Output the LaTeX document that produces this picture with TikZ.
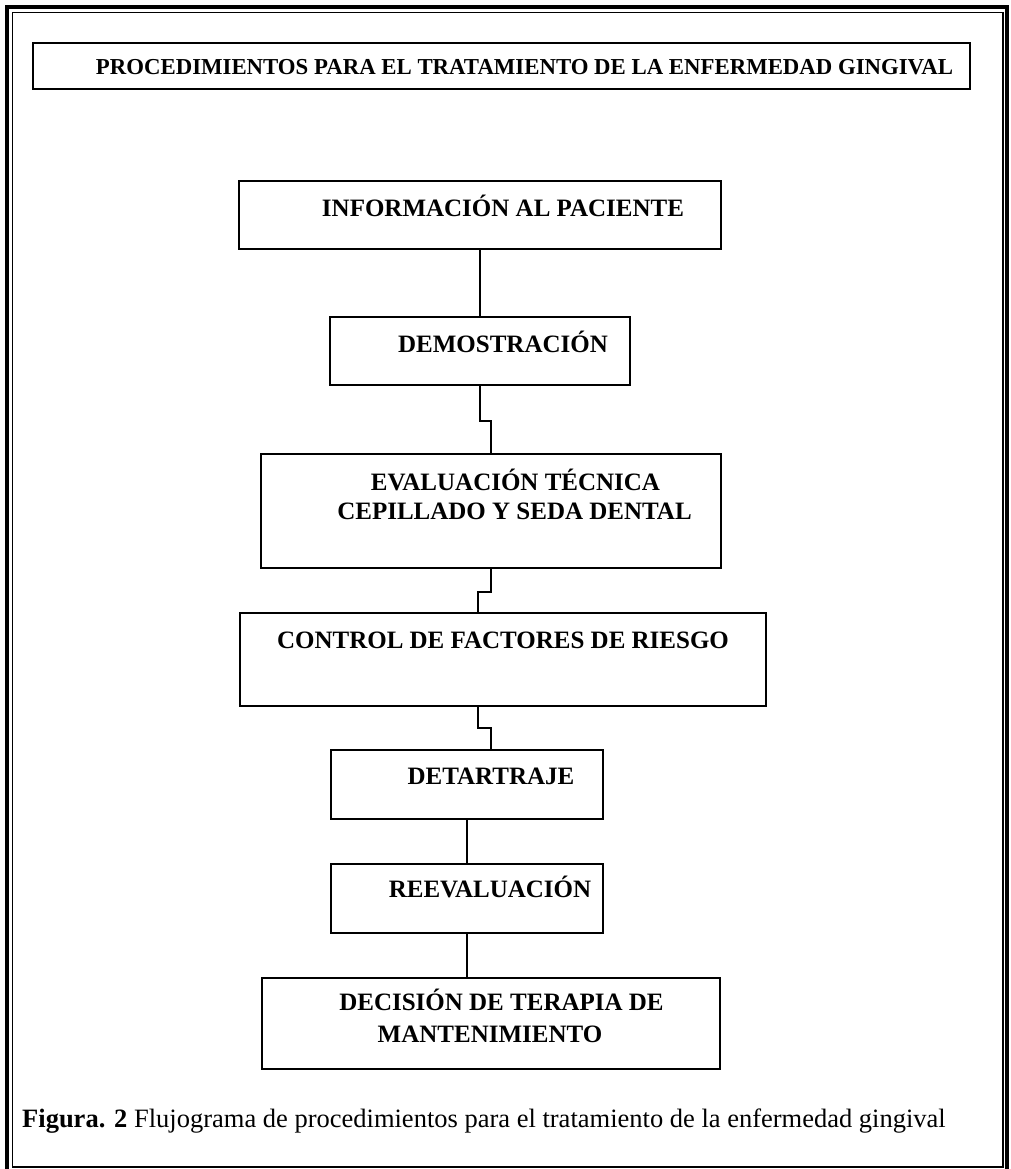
\documentclass[tikz,border=0pt]{standalone}
\usepackage{fontspec}
\setmainfont{Liberation Serif}
\begin{document}
\begin{tikzpicture}[x=1pt,y=-1pt,
  box/.style={draw, line width=2pt, inner sep=0pt},
  conn/.style={line width=1.8pt},
  lbl/.style={anchor=base, inner sep=0pt, font=\bfseries\fontsize{25}{29}\selectfont},
  ttl/.style={anchor=base, inner sep=0pt, font=\bfseries\fontsize{22.8}{27}\selectfont},
  captxt/.style={anchor=base west, inner sep=0pt, font=\fontsize{26.5}{30}\selectfont}]
\useasboundingbox (0,0) rectangle (1011,1169);
% outer frame
\draw[line width=4.5pt] (7,7) rectangle (1007,1180);
\draw[line width=1.5pt] (12.5,12.5) rectangle (1003,1167);
% title
\node[box, minimum width=937pt, minimum height=46pt] (title) at (501.5,66) {};
\node[ttl] (ttext) at (524.5,75) {PROCEDIMIENTOS PARA EL TRATAMIENTO DE LA ENFERMEDAD GINGIVAL};
% boxes
\node[box, minimum width=482pt, minimum height=68pt] (b1) at (480,215) {};
\node[box, minimum width=300pt, minimum height=68pt] (b2) at (480,351) {};
\node[box, minimum width=460pt, minimum height=114pt] (b3) at (491,511) {};
\node[box, minimum width=526pt, minimum height=93pt] (b4) at (503,659.5) {};
\node[box, minimum width=272pt, minimum height=69pt] (b5) at (467,784.5) {};
\node[box, minimum width=272pt, minimum height=69pt] (b6) at (467,898.5) {};
\node[box, minimum width=458pt, minimum height=91pt] (b7) at (491,1023.5) {};
% texts
\node[lbl] (t1) at (503,216) {INFORMACIÓN AL PACIENTE};
\node[lbl] (t2) at (503,352) {DEMOSTRACIÓN};
\node[lbl] (t3a) at (515.5,490) {EVALUACIÓN TÉCNICA};
\node[lbl] (t3b) at (514.5,519) {CEPILLADO Y SEDA DENTAL};
\node[lbl] (t4) at (503,648) {CONTROL DE FACTORES DE RIESGO};
\node[lbl] (t5) at (491,784) {DETARTRAJE};
\node[lbl] (t6) at (490,897) {REEVALUACIÓN};
\node[lbl] (t7a) at (501.5,1010) {DECISIÓN DE TERAPIA DE};
\node[lbl] (t7b) at (490,1042) {MANTENIMIENTO};
\node[captxt] (caption) at (22,1127) {\textbf{Figura. 2} Flujograma de procedimientos para el tratamiento de la enfermedad gingival};
% connectors
\draw[conn] (b1) -- (b2);
\draw[conn] (b2.south) -- ++(0,35) -| (b3.north);
\draw[conn] (b3.south) -- ++(0,23) -| ([xshift=-25pt]b4.north);
\draw[conn] ([xshift=-25pt]b4.south) -- ++(0,21) -| ([xshift=24pt]b5.north);
\draw[conn] (b5) -- (b6);
\draw[conn] (b6.south) -- (b6.south |- b7.north);
\end{tikzpicture}
\end{document}
